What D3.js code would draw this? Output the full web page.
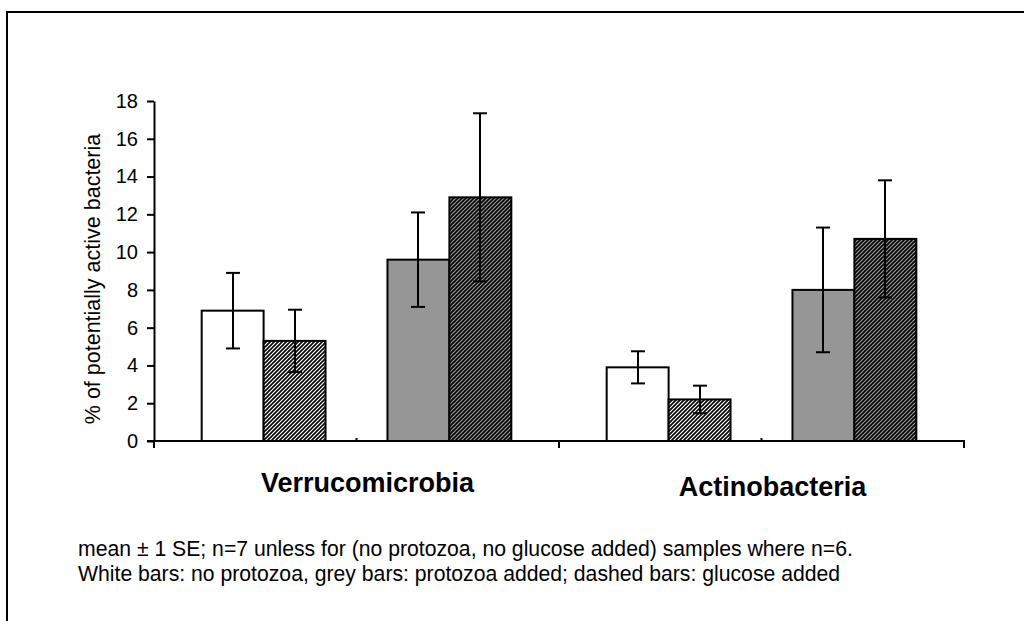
<!DOCTYPE html>
<html>
<head>
<meta charset="utf-8">
<title>Potentially active bacteria</title>
<script src="https://cdn.jsdelivr.net/npm/d3@7"></script>
<style>
  html, body { margin: 0; padding: 0; background: #fff; }
  svg { display: block; font-family: "Liberation Sans", Arial, sans-serif; }
  .axis path, .axis line { stroke: #000; stroke-width: 2px; }
  .axis text { font-size: 20px; fill: #000; }
</style>
</head>
<body>
<script>
// data
const groups = ["Verrucomicrobia", "Actinobacteria"];
const seriesKeys = ["noProtozoa", "noProtozoaGlucose", "gap", "protozoa", "protozoaGlucose"];
const noProtozoa = [6.9, 3.9];
const noProtozoaSE = [2.0, 0.85];
const noProtozoaGlucose = [5.3, 2.2];
const noProtozoaGlucoseSE = [1.65, 0.73];
const protozoa = [9.6, 8.0];
const protozoaSE = [2.5, 3.3];
const protozoaGlucose = [12.9, 10.7];
const protozoaGlucoseSE = [4.45, 3.1];
const yTicks = [0, 2, 4, 6, 8, 10, 12, 14, 16, 18];
const yLabel = "% of potentially active bacteria";
const notes = [
  "mean \u00b1 1 SE; n=7 unless for (no protozoa, no glucose added) samples where n=6.",
  "White bars: no protozoa, grey bars: protozoa added; dashed bars: glucose added"
];

const W = 1024, H = 621;
const grey = "#969696";

const svg = d3.select("body").append("svg").attr("width", W).attr("height", H);

// hatch patterns
const defs = svg.append("defs");
function hatch(id, bg) {
  const p = defs.append("pattern").attr("id", id)
    .attr("patternUnits", "userSpaceOnUse").attr("width", 4).attr("height", 4);
  p.append("rect").attr("width", 4).attr("height", 4).attr("fill", bg);
  p.append("path").attr("d", "M-1,1 l2,-2 M0,4 l4,-4 M3,5 l2,-2")
    .attr("stroke", "#000").attr("stroke-width", 1.6);
}
hatch("hatchWhite", "#fff");
hatch("hatchGrey", grey);

// outer frame
svg.append("rect").attr("x", 7).attr("y", 12).attr("width", W).attr("height", H)
  .attr("fill", "none").attr("stroke", "#000").attr("stroke-width", 2);

const x0 = d3.scaleBand().domain(groups).range([154, 964]);
const x1 = d3.scaleBand().domain(seriesKeys).range([0, x0.bandwidth()]).paddingOuter(0.77);
const y = d3.scaleLinear().domain([0, 18]).range([441, 101]);

const rows = [];
groups.forEach((g, i) => {
  rows.push({ g, key: "noProtozoa", v: noProtozoa[i], se: noProtozoaSE[i], fill: "#fff" });
  rows.push({ g, key: "noProtozoaGlucose", v: noProtozoaGlucose[i], se: noProtozoaGlucoseSE[i], fill: "url(#hatchWhite)" });
  rows.push({ g, key: "protozoa", v: protozoa[i], se: protozoaSE[i], fill: grey });
  rows.push({ g, key: "protozoaGlucose", v: protozoaGlucose[i], se: protozoaGlucoseSE[i], fill: "url(#hatchGrey)" });
});

// bars
svg.append("g").selectAll("rect").data(rows).enter().append("rect")
  .attr("x", d => x0(d.g) + x1(d.key))
  .attr("y", d => y(d.v))
  .attr("width", x1.bandwidth())
  .attr("height", d => y(0) - y(d.v))
  .attr("fill", d => d.fill)
  .attr("stroke", "#000").attr("stroke-width", 2);

// error bars
const eb = svg.append("g").attr("stroke", "#000").attr("stroke-width", 2);
rows.forEach(d => {
  const cx = Math.round(x0(d.g) + x1(d.key) + x1.bandwidth() / 2);
  eb.append("line").attr("x1", cx).attr("x2", cx).attr("y1", y(d.v + d.se)).attr("y2", y(d.v - d.se));
  eb.append("line").attr("x1", cx - 7).attr("x2", cx + 7).attr("y1", y(d.v + d.se)).attr("y2", y(d.v + d.se));
  eb.append("line").attr("x1", cx - 7).attr("x2", cx + 7).attr("y1", y(d.v - d.se)).attr("y2", y(d.v - d.se));
});

// y axis
svg.append("g").attr("class", "axis").attr("transform", "translate(154,0)")
  .call(d3.axisLeft(y).tickValues(yTicks).tickSize(7).tickPadding(9).tickSizeOuter(0));

// x axis: ticks on group edges, small marks at group middles
const xa = svg.append("g").attr("class", "axis").attr("transform", "translate(0,441)");
xa.append("line").attr("x1", 147).attr("x2", 965).attr("y1", 0).attr("y2", 0);
const edges = groups.map(g => x0(g)).concat([x0.range()[1]]);
xa.selectAll(".edge").data(edges).enter().append("line")
  .attr("x1", d => d).attr("x2", d => d).attr("y1", 0).attr("y2", 7);
xa.selectAll(".mid").data(groups).enter().append("line")
  .attr("x1", g => x0(g) + x0.bandwidth() / 2).attr("x2", g => x0(g) + x0.bandwidth() / 2)
  .attr("y1", 0).attr("y2", -3);

// category labels
svg.selectAll(".cat").data(groups).enter().append("text")
  .attr("x", g => x0(g) + x0.bandwidth() / 2 + 11)
  .attr("y", (g, i) => 492 + i * 4)
  .attr("text-anchor", "middle")
  .attr("font-size", 27).attr("font-weight", "bold")
  .text(g => g);

// y label
svg.append("text")
  .attr("transform", "translate(100,279) rotate(-90)")
  .attr("text-anchor", "middle").attr("font-size", 21.5)
  .text(yLabel);

// footnote
svg.selectAll(".note").data(notes).enter().append("text")
  .attr("x", 78).attr("y", (d, i) => 556 + i * 25)
  .attr("font-size", 21.2)
  .text(d => d);
</script>
</body>
</html>
